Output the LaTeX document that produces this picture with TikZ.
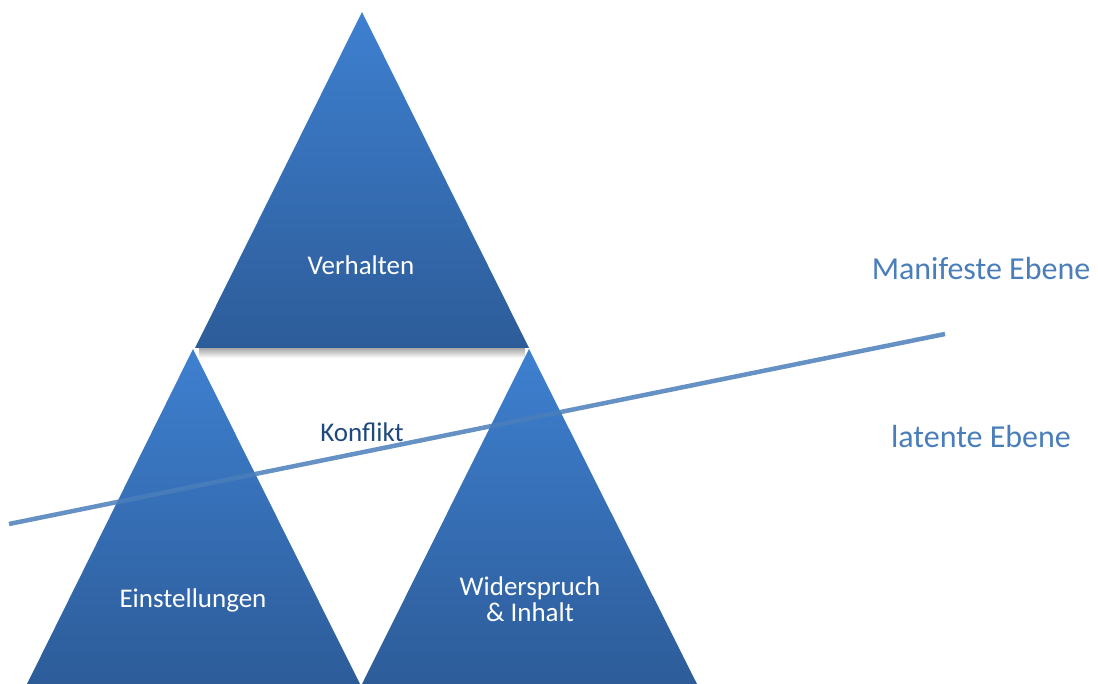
\documentclass[tikz,border=0pt]{standalone}
\usepackage{fontspec}
\setmainfont{Carlito}
\definecolor{triTop}{HTML}{3E80D0}
\definecolor{triBot}{HTML}{2D5C99}
\definecolor{lineBlue}{HTML}{4A7EBB}
\definecolor{darkBlue}{HTML}{1F497D}
\tikzset{
  tri/.style={top color=triTop, bottom color=triBot, draw=none},
  lbl/.style={text=white, font=\fontsize{27}{30}\selectfont, align=center},
  lvl/.style={text=lineBlue, font=\fontsize{32}{36}\selectfont}
}
\begin{document}
\begin{tikzpicture}[x=1pt,y=-1pt]
\useasboundingbox (0,0) rectangle (1098,684);
% soft shadow under top triangle base
\shade[top color=black!35, bottom color=white] (199,348) rectangle (525,358);
\shade[tri] (362,12) -- (529,348) -- (195,348) -- cycle;
\shade[tri] (193,349) -- (360,684) -- (27,684) -- cycle;
\shade[tri] (529,349) -- (697,684) -- (362,684) -- cycle;
\node[lbl] (verh) at (361,265) {Verhalten};
\node[lbl] (einst) at (193,600) {Einstellungen};
\node[lbl] (wid) at (530,599) {Widerspruch\\[-4pt]\& Inhalt};
\node[text=darkBlue, font=\fontsize{27}{30}\selectfont] (konf) at (362,432) {Konflikt};
\coordinate (ls) at (9,524);
\coordinate (le) at (945,334);
\draw[lineBlue, line width=4.5pt, opacity=0.85] (ls) -- (le);
\node[lvl] (man) at (981,269) {Manifeste Ebene};
\node[lvl] (lat) at (981,437) {latente Ebene};
\end{tikzpicture}
\end{document}
